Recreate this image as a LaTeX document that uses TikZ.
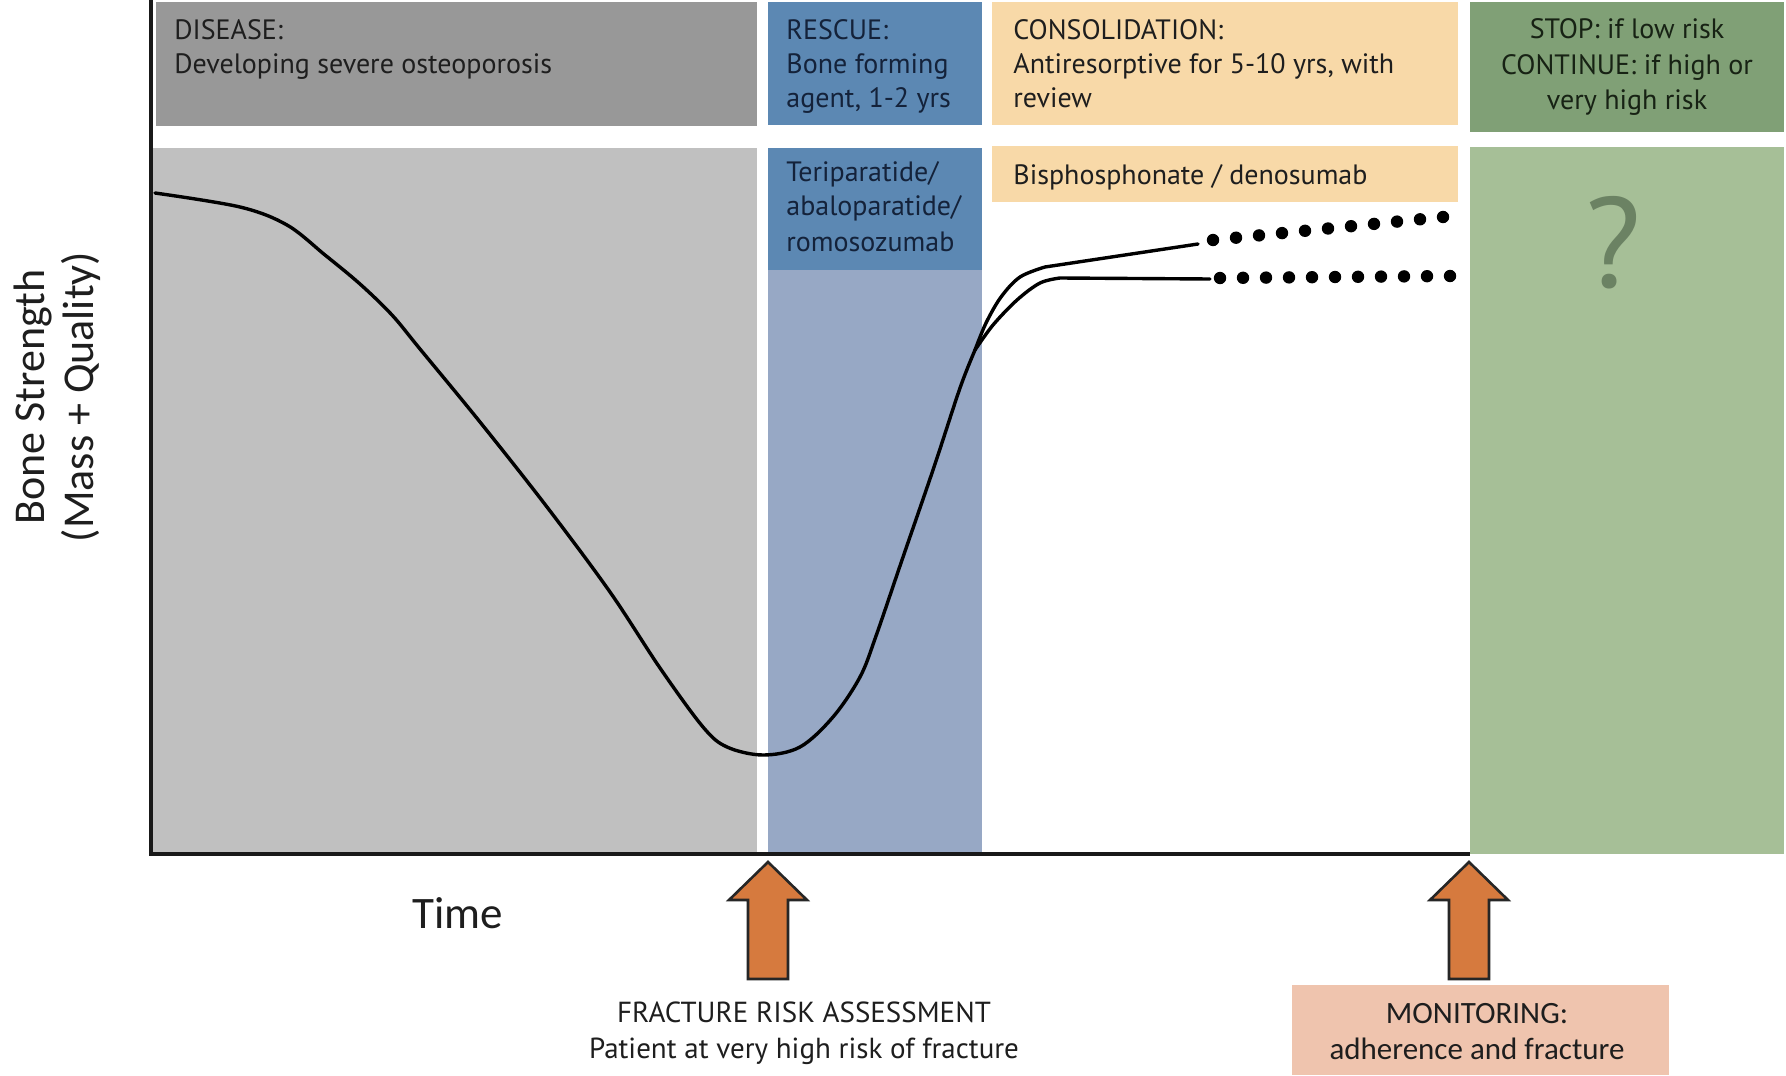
\documentclass[tikz,border=0pt]{standalone}
\usepackage{fontspec}
\setmainfont{PT Sans}
\newfontfamily\calfont{Carlito}
\definecolor{disTop}{HTML}{989898}
\definecolor{disLow}{HTML}{C0C0C0}
\definecolor{resTop}{HTML}{5C88B3}
\definecolor{resLow}{HTML}{97A8C5}
\definecolor{conFill}{HTML}{F8D9A8}
\definecolor{stopTop}{HTML}{80A076}
\definecolor{stopLow}{HTML}{A6BF97}
\definecolor{qCol}{HTML}{6B8263}
\definecolor{arrOrange}{HTML}{D67A3E}
\definecolor{monFill}{HTML}{EFC4AE}
\definecolor{txtDark}{HTML}{1E1E1E}
\definecolor{txtBlue}{HTML}{14223A}
\definecolor{txtGreen}{HTML}{172214}
\begin{document}
\begin{tikzpicture}[x=0.5pt,y=-0.5pt,
  lbl/.style={inner sep=0pt, anchor=base west, font=\fontsize{14}{17}\selectfont},
  clbl/.style={inner sep=0pt, anchor=base, font=\fontsize{14}{17}\selectfont},
  callbl/.style={inner sep=0pt, anchor=base, font=\calfont\fontsize{15.5}{18}\selectfont},
  curve/.style={line width=1.7pt, black, line join=round, line cap=round},
  bigarrow/.style={fill=arrOrange, draw=black!85, line width=1.3pt, line join=miter},
  axisline/.style={line width=1.7pt, black!90}]
\useasboundingbox (0,0) rectangle (1786,1075);
\fill[white] (0,0) rectangle (1786,1075);
% top boxes
\fill[disTop] (156,2) rectangle (757,126);
\fill[resTop] (768,2) rectangle (982,125);
\fill[conFill] (992,2) rectangle (1458,125);
\fill[stopTop] (1470,2) rectangle (1784,132);
% lower regions
\fill[disLow] (153,148) rectangle (757,854);
\fill[resLow] (768,148) rectangle (982,854);
\fill[resTop] (768,148) rectangle (982,270);
\fill[conFill] (992,146) rectangle (1458,202);
\fill[stopLow] (1470,147) rectangle (1784,854);
% monitoring box
\fill[monFill] (1292,985) rectangle (1669,1075);
% axes
\draw[axisline] (151,0) -- (151,854) -- (1470,854);
% curve
\draw[curve] plot[smooth, tension=0.55] coordinates {(155,193) (240,207) (287,225) (325,255) (360,284) (392,315) (420,349) (480,422) (547,507) (610,592) (660,668) (703,727) (727,747) (763,755) (800,747) (833,717) (860,677) (876,636) (902,560) (934,467) (960,388) (975,350)};
\draw[curve] plot[smooth, tension=0.55] coordinates {(975,350) (986,323) (1001,297) (1020,277) (1045,267)} -- (1198,244);
\draw[curve] plot[smooth, tension=0.55] coordinates {(975,350) (993,325) (1017,300) (1040,283) (1060,278)} -- (1210,279);
\foreach \i in {0,...,10} {
  \fill ({1213+23*\i},{240-2.3*\i}) circle (3.1pt);
  \fill ({1220+23*\i},{278-0.2*\i}) circle (3.1pt);
}
% arrows
\draw[bigarrow] (768,862) -- (807,900) -- (788,900) -- (788,979) -- (748,979) -- (748,900) -- (729,900) -- cycle;
\draw[bigarrow] (1469,862) -- (1508,900) -- (1489,900) -- (1489,979) -- (1449,979) -- (1449,900) -- (1430,900) -- cycle;
% texts top
\node[lbl, text=txtDark] (dis1) at (174,40) {DISEASE:};
\node[lbl, text=txtDark] (dis2) at (174,74) {Developing severe osteoporosis};
\node[lbl, text=txtBlue] (res1) at (786,40) {RESCUE:};
\node[lbl, text=txtBlue] (res2) at (786,74) {Bone forming};
\node[lbl, text=txtBlue] (res3) at (786,108) {agent, 1-2 yrs};
\node[lbl, text=txtDark] (con1) at (1013,40) {CONSOLIDATION:};
\node[lbl, text=txtDark] (con2) at (1013,74) {Antiresorptive for 5-10 yrs, with};
\node[lbl, text=txtDark] (con3) at (1013,108) {review};
\node[clbl, text=txtGreen] (stop1) at (1627,39) {STOP: if low risk};
\node[clbl, text=txtGreen] (stop2) at (1627,75) {CONTINUE: if high or};
\node[clbl, text=txtGreen] (stop3) at (1627,110) {very high risk};
\node[lbl, text=txtBlue] (ter1) at (786,182) {Teriparatide/};
\node[lbl, text=txtBlue] (ter2) at (786,216) {abaloparatide/};
\node[lbl, text=txtBlue] (ter3) at (786,251) {romosozumab};
\node[lbl, text=txtDark] (bis) at (1013,185) {Bisphosphonate / denosumab};
\node[inner sep=0pt, anchor=base, text=qCol, font=\fontsize{64}{64}\selectfont] (qm) at (1613,287) {?};
% axis labels
\node[inner sep=0pt, anchor=base, text=txtDark, font=\calfont\fontsize{22.5}{24}\selectfont] (time) at (458,928) {Time};
\node[inner sep=0pt, rotate=90, align=center, text=txtDark, font=\calfont\fontsize{22}{24.5}\selectfont] (ylab) at (57,397) {Bone Strength\\(Mass + Quality)};
% bottom texts
\node[clbl, text=txtDark, font=\fontsize{14.5}{17}\selectfont] (fra1) at (804,1022) {FRACTURE RISK ASSESSMENT};
\node[clbl, text=txtDark, font=\fontsize{14.5}{17}\selectfont] (fra2) at (804,1058) {Patient at very high risk of fracture};
\node[callbl, text=txtDark] (mon1) at (1477,1023) {MONITORING:};
\node[callbl, text=txtDark] (mon2) at (1477,1059) {adherence and fracture};
\end{tikzpicture}
\end{document}
